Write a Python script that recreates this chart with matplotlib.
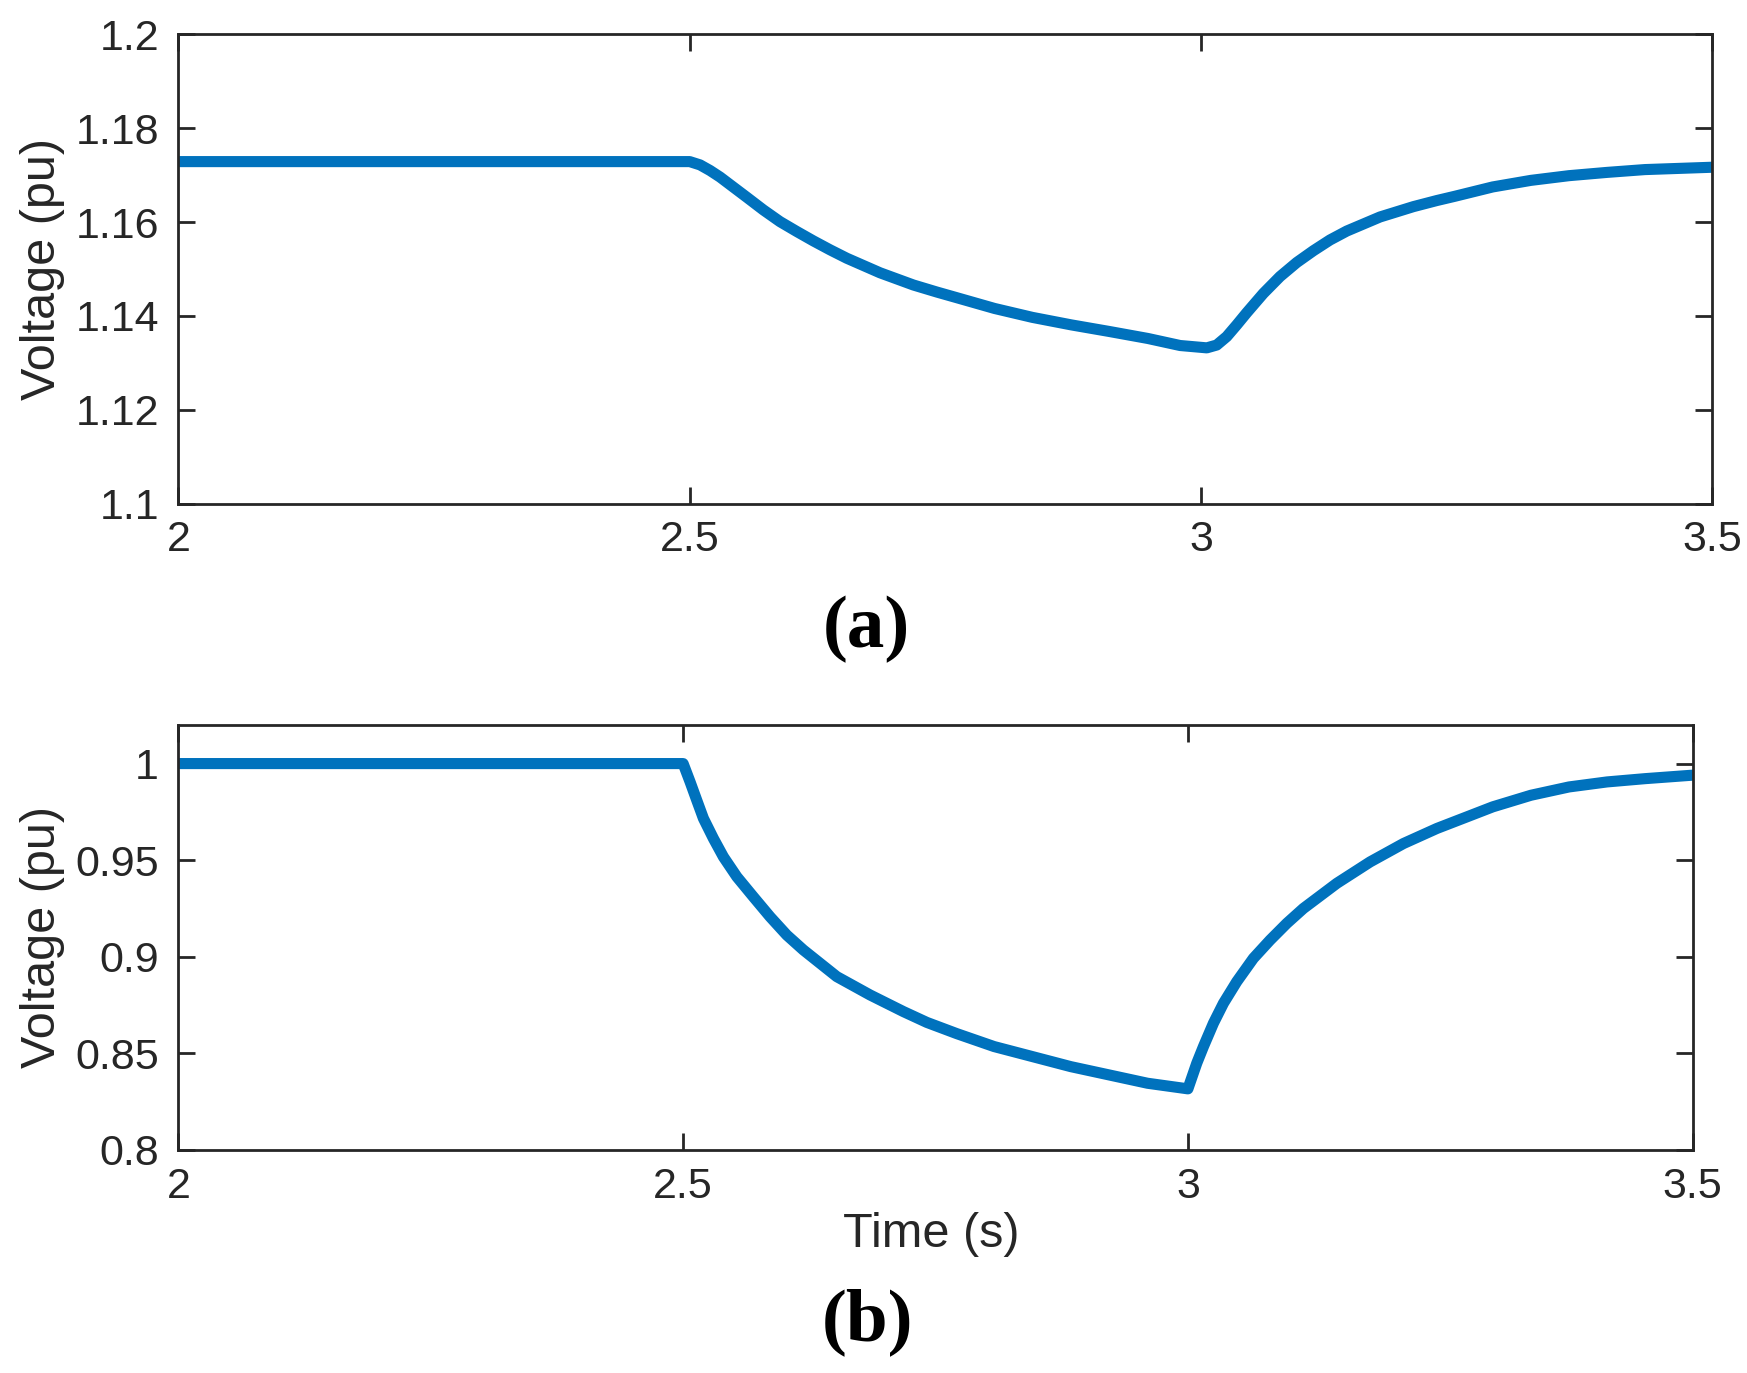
import numpy as np
import matplotlib
matplotlib.use("Agg")
import matplotlib.pyplot as plt

# -----------------------------
# Data
# -----------------------------
# (a) upper trace
t_a = [2.0, 2.5, 2.5101, 2.5199, 2.5297, 2.5394, 2.5558, 2.5720, 2.5883,
       2.6047, 2.6209, 2.6372, 2.6536, 2.6861, 2.7187, 2.7416, 2.761, 2.798,
       2.835, 2.873, 2.910, 2.948, 2.9795, 3.0056, 3.0153, 3.0251, 3.0349,
       3.0447, 3.0609, 3.0772, 3.0936, 3.1098, 3.1261, 3.1425, 3.175,
       3.2076, 3.2305, 3.248, 3.2852, 3.3225, 3.3597, 3.397, 3.434, 3.5]
v_a = [1.1729, 1.1729, 1.1722, 1.1710, 1.1696, 1.1680, 1.1653, 1.1626,
       1.1601, 1.1580, 1.1560, 1.1541, 1.1523, 1.1492, 1.1466, 1.1451,
       1.1439, 1.1416, 1.1397, 1.1381, 1.1367, 1.1352, 1.1337, 1.1332,
       1.1338, 1.1356, 1.1381, 1.1407, 1.1448, 1.1484, 1.1514, 1.1539,
       1.1562, 1.1581, 1.1611, 1.1633, 1.1646, 1.1655, 1.1675, 1.1689,
       1.1699, 1.1706, 1.1712, 1.1717]

# (b) lower trace
t_b = [2.0, 2.5, 2.5069, 2.5135, 2.5201, 2.530, 2.5399, 2.5532, 2.5696,
       2.5861, 2.6027, 2.6191, 2.6522, 2.6852, 2.7182, 2.7414, 2.771, 2.808,
       2.846, 2.884, 2.922, 2.960, 3.0, 3.0088, 3.0154, 3.0253, 3.0352,
       3.0484, 3.0649, 3.0814, 3.098, 3.1144, 3.1475, 3.1805, 3.2135,
       3.2466, 3.2763, 3.302, 3.3398, 3.3775, 3.4152, 3.453, 3.5]
v_b = [1.0, 1.0, 0.9905, 0.9810, 0.9716, 0.9612, 0.9517, 0.9414, 0.9310,
       0.9207, 0.9112, 0.9035, 0.8897, 0.8802, 0.8716, 0.8660, 0.8602,
       0.8535, 0.8483, 0.8431, 0.8388, 0.8345, 0.8316, 0.8449, 0.8535,
       0.8656, 0.8759, 0.8871, 0.8992, 0.9086, 0.9173, 0.9250, 0.9380,
       0.9491, 0.9586, 0.9664, 0.9724, 0.9776, 0.9836, 0.9879, 0.9905,
       0.9922, 0.9940]

x_ticks = [2, 2.5, 3, 3.5]
x_ticklabels = ["2", "2.5", "3", "3.5"]
ya_ticks = [1.1, 1.12, 1.14, 1.16, 1.18, 1.2]
ya_ticklabels = ["1.1", "1.12", "1.14", "1.16", "1.18", "1.2"]
yb_ticks = [0.8, 0.85, 0.9, 0.95, 1.0]
yb_ticklabels = ["0.8", "0.85", "0.9", "0.95", "1"]

# -----------------------------
# Figure
# -----------------------------
plt.rcParams["font.family"] = ["Liberation Sans", "DejaVu Sans"]
line_color = "#0072BD"
edge = "#262626"

fig = plt.figure(figsize=(17.47, 13.73), dpi=100)
ax_a = fig.add_axes([0.1021, 0.6332, 0.8781, 0.3417])
ax_b = fig.add_axes([0.1021, 0.1625, 0.8668, 0.3095])


def style_axes(ax, yticks, yticklabels, ylim):
    ax.set_xlim(2, 3.5)
    ax.set_ylim(*ylim)
    ax.set_xticks(x_ticks)
    ax.set_xticklabels(x_ticklabels)
    ax.set_yticks(yticks)
    ax.set_yticklabels(yticklabels)
    ax.tick_params(direction="in", length=12, width=2, colors=edge,
                   labelsize=31, top=True, right=True)
    ax.tick_params(axis="x", pad=12)
    ax.tick_params(axis="y", pad=14)
    for sp in ax.spines.values():
        sp.set_linewidth(2)
        sp.set_color(edge)
    ax.set_ylabel("Voltage (pu)", fontsize=35, color=edge)


ax_a.plot(t_a, v_a, color=line_color, lw=8, solid_joinstyle="round",
          solid_capstyle="round")
style_axes(ax_a, ya_ticks, ya_ticklabels, (1.1, 1.2))
ax_a.yaxis.set_label_coords(-0.074, 0.5)

ax_b.plot(t_b, v_b, color=line_color, lw=8, solid_joinstyle="round",
          solid_capstyle="round")
style_axes(ax_b, yb_ticks, yb_ticklabels, (0.8, 1.02))
ax_b.yaxis.set_label_coords(-0.075, 0.5)
ax_b.set_xlabel("Time (s)", fontsize=35, color=edge)
ax_b.xaxis.set_label_coords(0.497, -0.145)

fig.text(0.4957, 0.542, "(a)", fontsize=54, fontweight="bold",
         family="Liberation Serif", ha="center", va="center")
fig.text(0.4963, 0.037, "(b)", fontsize=54, fontweight="bold",
         family="Liberation Serif", ha="center", va="center")

plt.savefig("out.png", dpi=100)
